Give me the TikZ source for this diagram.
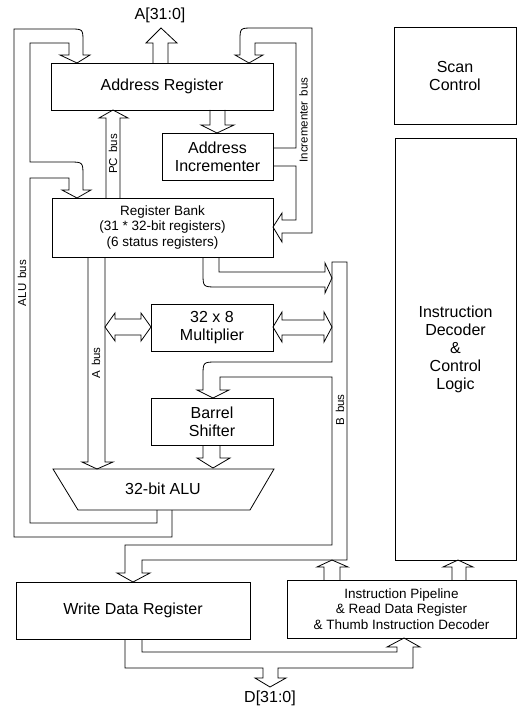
\documentclass[tikz,border=0pt]{standalone}
\usepackage{fontspec}
\setmainfont{Liberation Sans}
\begin{document}
\begin{tikzpicture}[x=1pt,y=-1pt,
  box/.style={draw,line width=0.8pt,inner sep=0pt,align=center},
  bus/.style={draw,line width=0.8pt,line join=miter},
  big/.style={font=\fontsize{16}{18}\selectfont},
  small/.style={font=\fontsize{13.5}{15.6}\selectfont},
  buslbl/.style={font=\fontsize{11.5}{13}\selectfont,rotate=90,inner sep=0pt}]
\useasboundingbox (0,0) rectangle (518,706);
% boxes
\node[box,big,minimum width=222pt,minimum height=47pt] (addr) at (162,86.5) {Address Register};
\node[box,big,minimum width=111pt,minimum height=47pt] (inc) at (217.5,156.5) {Address\\Incrementer};
\node[box,small,minimum width=221pt,minimum height=59pt] (bank) at (162.5,227.5) {Register Bank\\(31 * 32-bit registers)\\(6 status registers)};
\node[box,big,minimum width=122pt,minimum height=47pt] (mult) at (212,327.5) {32 x 8\\Multiplier};
\node[box,big,minimum width=122pt,minimum height=47pt] (barrel) at (212,421.5) {Barrel\\Shifter};
\node[box,big,minimum width=234pt,minimum height=57pt] (wdr) at (133,610.5) {Write Data Register};
\node[box,small,minimum width=229pt,minimum height=58pt] (pipe) at (401.5,609) {Instruction Pipeline\\\& Read Data Register\\\& Thumb Instruction Decoder};
\node[box,big,minimum width=122pt,minimum height=97pt] (scan) at (455,75.5) {Scan\\Control};
\node[box,big,minimum width=121pt,minimum height=422pt] (dec) at (455.5,349) {Instruction\\Decoder\\\&\\Control\\Logic};
% ALU
\draw[bus] (53,469) -- (274,469) -- (250,510) -- (78,510) -- cycle;
\node[big] (alu) at (163,489) {32-bit ALU};
% external labels
\node[big] (abus) at (160,15) {A[31:0]};
\node[big] (dbus) at (270,698) {D[31:0]};
% A[31:0] arrow
\draw[bus] (153,63) -- (153,43) -- (146,43) -- (161,28) -- (177,43) -- (168,43) -- (168,63);
% address register -> incrementer
\draw[bus] (210,110) -- (210,125) -- (201,125) -- (217,133) -- (234,125) -- (225,125) -- (225,110);
% PC bus
\draw[bus] (106,198) -- (106,118) -- (99,118) -- (113,110) -- (128,118) -- (120,118) -- (120,198);
\node[buslbl] (pcl) at (113,154) {PC\hspace{0.45em}bus};
% ALU bus
\draw[bus] (157,510) -- (157,523) -- (30,523) -- (30,178) -- (69,178) -- (69,190) -- (62,190) -- (77,198)
  -- (91,190) -- (83,190) -- (83,176) .. controls (83,162) .. (69,162) -- (30,162) -- (30,43) -- (69,43)
  -- (69,55) -- (60,55) -- (77,63) -- (90,55) -- (83,55) -- (83,42) .. controls (83,29) .. (70,29)
  -- (14,29) -- (14,537) -- (172,537) -- (172,510);
\node[buslbl] (alul) at (22,283) {ALU\hspace{0.45em}bus};
% incrementer bus
\draw[bus] (273,148) -- (296,148) -- (296,43) -- (255,43) -- (255,55) -- (263,55) -- (249,63) -- (235,55)
  -- (240,55) -- (240,41) .. controls (240,28) .. (253,28) -- (312,28) -- (312,233) -- (282,233)
  -- (282,242) -- (273,227) -- (282,213) -- (282,220) -- (296,220) -- (296,166) -- (273,166);
\node[buslbl] (incl) at (303.5,120) {Incrementer\hspace{0.45em}bus};
% A bus
\draw[bus] (88,257) -- (88,462) -- (82,462) -- (97,469) -- (113,462) -- (105,462) -- (105,257);
\node[buslbl] (al) at (96,363) {A\hspace{0.45em}bus};
% register bank -> B bus
\draw[bus] (219,257) -- (219,272) -- (325,272) -- (325,263) -- (332,278) -- (325,293) -- (325,287)
  -- (217,287) .. controls (203,287) .. (203,273) -- (203,257);
% multiplier double arrows
\draw[bus] (105,327) -- (115,313) -- (115,319) -- (141,319) -- (141,313) -- (151,327) -- (141,341)
  -- (141,335) -- (115,335) -- (115,341) -- cycle;
\draw[bus] (273,327) -- (282,312) -- (282,320) -- (324,320) -- (324,312) -- (332,327) -- (324,342)
  -- (324,335) -- (282,335) -- (282,342) -- cycle;
% B bus
\draw[bus] (332,262) -- (332,362) -- (217,362) .. controls (203,362) .. (203,376) -- (203,390) -- (197,390)
  -- (213,398) -- (229,390) -- (220,390) -- (220,377) -- (332,377) -- (332,545) -- (125,545) -- (125,573)
  -- (117,573) -- (133,582) -- (150,573) -- (142,573) -- (142,560) -- (347,560) -- (347,262) -- cycle;
\node[buslbl] (bl) at (340,410) {B\hspace{0.45em}bus};
% barrel -> ALU
\draw[bus] (203,445) -- (203,458) -- (197,458) -- (213,468) -- (230,458) -- (220,458) -- (220,445);
% pipeline -> B bus, decoder
\draw[bus] (324,580) -- (324,567) -- (317,567) -- (332,560) -- (348,567) -- (340,567) -- (340,580);
\draw[bus] (452,580) -- (452,567) -- (443,567) -- (458,560) -- (473,567) -- (466,567) -- (466,580);
% data bus
\draw[bus] (125,639) -- (125,668) -- (263,668) -- (263,678) -- (255,678) -- (270,687) -- (286,678)
  -- (278,678) -- (278,668) -- (413,668) -- (413,647) -- (420,647) -- (404,638) -- (387,647)
  -- (397,647) -- (397,652) -- (142,652) -- (142,639);
\end{tikzpicture}
\end{document}
